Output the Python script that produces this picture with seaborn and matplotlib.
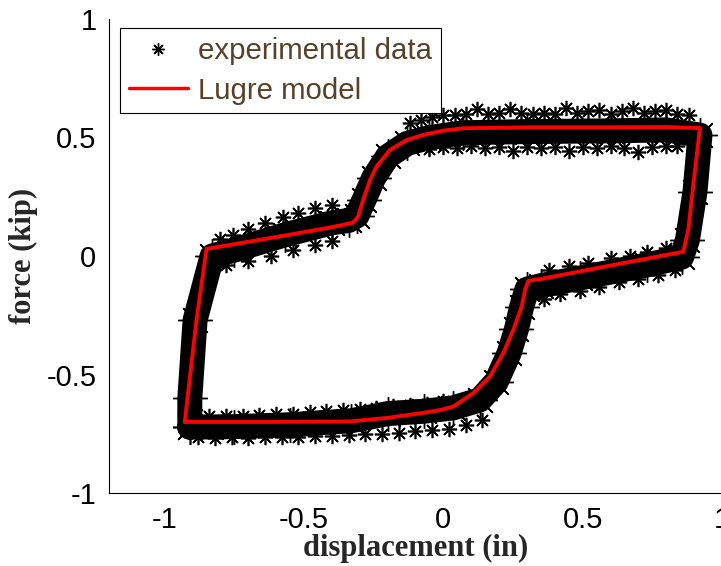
import numpy as np
import pandas as pd
import seaborn as sns
import matplotlib.pyplot as plt
from matplotlib.lines import Line2D

# Lugre model curve
model_x = [-0.928, -0.60, -0.335, -0.20, -0.073, -0.012, 0.035, 0.107, 0.167, 0.215, 0.251, 0.281, 0.293,
           0.305, 0.35, 0.60, 0.861, 0.879, 0.90, 0.921, 0.80, 0.60, 0.31, 0.071, 0.0, -0.072, -0.132,
           -0.192, -0.24, -0.263, -0.288, -0.306, -0.325, -0.407, -0.60, -0.85, -0.886, -0.928]
model_y = [-0.70, -0.70, -0.698, -0.683, -0.662, -0.650, -0.636, -0.579, -0.509, -0.41, -0.312, -0.214, -0.143,
           -0.105, -0.097, -0.04, 0.018, 0.11, 0.33, 0.54, 0.544, 0.543, 0.543, 0.539, 0.529, 0.511, 0.489,
           0.447, 0.377, 0.321, 0.236, 0.166, 0.14, 0.12, 0.08, 0.03, -0.27, -0.70]

# experimental data: middle of the measured band
exp_x = [-0.91, -0.75, -0.55, -0.33, -0.20, -0.07, 0.035, 0.131, 0.19, 0.236, 0.262, 0.281, 0.30,
         0.35, 0.49, 0.73, 0.855, 0.876, 0.903, 0.921, 0.80, 0.60, 0.30, 0.07, -0.05, -0.13, -0.20,
         -0.25, -0.285, -0.31, -0.34, -0.40, -0.57, -0.75, -0.83, -0.891, -0.91, -0.91]
exp_y = [-0.722, -0.72, -0.712, -0.695, -0.665, -0.655, -0.641, -0.607, -0.53, -0.41, -0.31, -0.214, -0.14,
         -0.125, -0.093, -0.038, -0.005, 0.068, 0.27, 0.51, 0.532, 0.528, 0.525, 0.52, 0.50, 0.475, 0.42,
         0.33, 0.236, 0.17, 0.15, 0.14, 0.089, 0.025, 0.0, -0.27, -0.60, -0.722]

# experimental data: samples scattered along the edges of the band
top_up_x = [-0.12, -0.08, -0.04, 0.0, 0.04, 0.08, 0.12, 0.16, 0.20, 0.24, 0.28, 0.32, 0.36,
            0.40, 0.44, 0.48, 0.52, 0.56, 0.60, 0.64, 0.68, 0.72, 0.76, 0.80, 0.84, 0.88]
top_up_y = [0.56, 0.575, 0.585, 0.595, 0.595, 0.60, 0.62, 0.60, 0.605, 0.62, 0.605, 0.60, 0.605,
            0.60, 0.625, 0.605, 0.61, 0.615, 0.60, 0.61, 0.625, 0.605, 0.61, 0.615, 0.60, 0.595]
top_lo_x = [-0.05, 0.0, 0.05, 0.10, 0.15, 0.20, 0.25, 0.30, 0.35, 0.40, 0.45, 0.50, 0.55,
            0.60, 0.65, 0.70, 0.75, 0.80, 0.84]
top_lo_y = [0.45, 0.46, 0.455, 0.465, 0.455, 0.46, 0.445, 0.46, 0.455, 0.46, 0.445, 0.46, 0.455,
            0.465, 0.455, 0.44, 0.46, 0.465, 0.465]
bot_lo_x = [-0.88, -0.82, -0.76, -0.70, -0.64, -0.58, -0.52, -0.46, -0.40, -0.34, -0.28, -0.22,
            -0.16, -0.10, -0.04, 0.02, 0.08, 0.14]
bot_lo_y = [-0.765, -0.77, -0.765, -0.77, -0.765, -0.765, -0.762, -0.76, -0.758, -0.755, -0.75, -0.75,
            -0.745, -0.74, -0.735, -0.73, -0.715, -0.69]
bot_up_x = [-0.84, -0.78, -0.72, -0.66, -0.60, -0.54, -0.48, -0.42, -0.36, -0.30, -0.24, -0.18,
            -0.12, -0.06, 0.0]
bot_up_y = [-0.675, -0.677, -0.673, -0.67, -0.665, -0.665, -0.66, -0.653, -0.65, -0.645, -0.64, -0.635,
            -0.63, -0.625, -0.61]
left_up_x = [-0.80, -0.755, -0.70, -0.64, -0.576, -0.52, -0.46, -0.40]
left_up_y = [0.07, 0.09, 0.113, 0.138, 0.165, 0.182, 0.202, 0.216]
left_lo_x = [-0.78, -0.70, -0.62, -0.54, -0.46, -0.40]
left_lo_y = [-0.04, -0.02, 0.0, 0.025, 0.045, 0.065]
right_up_x = [0.38, 0.45, 0.52, 0.60, 0.67, 0.73, 0.80]
right_up_y = [-0.058, -0.043, -0.028, -0.008, 0.002, 0.017, 0.032]
right_lo_x = [0.36, 0.42, 0.49, 0.56, 0.63, 0.70, 0.77, 0.83]
right_lo_y = [-0.18, -0.16, -0.146, -0.13, -0.11, -0.095, -0.08, -0.06]

edge_x = top_up_x + top_lo_x + bot_lo_x + bot_up_x + left_up_x + left_lo_x + right_up_x + right_lo_x
edge_y = top_up_y + top_lo_y + bot_lo_y + bot_up_y + left_up_y + left_lo_y + right_up_y + right_lo_y

df_model = pd.DataFrame({'x': model_x, 'y': model_y})
df_exp = pd.DataFrame({'x': exp_x, 'y': exp_y})

sns.set_style('white')
plt.rcParams['font.family'] = ['Liberation Sans', 'DejaVu Sans']
plt.rcParams['axes.unicode_minus'] = False

fig = plt.figure(figsize=(7.21, 5.66), dpi=100)
ax = fig.add_axes([109 / 721, 73 / 566, 613 / 721, 474 / 566])

asterisk = (8, 2, 0)

# band of experimental points
sns.lineplot(data=df_exp, x='x', y='y', sort=False, estimator=None, color='black',
             lw=18, marker=asterisk, markersize=25, markeredgewidth=1.0,
             markeredgecolor='black', ax=ax, zorder=2)
ax.plot(edge_x, edge_y, ls='none', marker=asterisk, color='black', markersize=11,
        markeredgewidth=1.2, zorder=2)

# model
sns.lineplot(data=df_model, x='x', y='y', sort=False, estimator=None, color='red',
             lw=2.8, ax=ax, zorder=3)

ax.set_xlim(-1.2, 1)
ax.set_ylim(-1, 1)
ax.set_xticks([-1, -0.5, 0, 0.5, 1])
ax.set_xticklabels(['-1', '-0.5', '0', '0.5', '1'])
ax.set_yticks([-1, -0.5, 0, 0.5, 1])
ax.set_yticklabels(['-1', '-0.5', '0', '0.5', '1'])
ax.tick_params(direction='in', length=5, width=0.8, labelsize=21, pad=9, colors='black')

for side in ['top', 'right']:
    ax.spines[side].set_visible(False)
for side in ['left', 'bottom']:
    ax.spines[side].set_linewidth(0.8)
    ax.spines[side].set_color('black')

ax.set_xlabel('displacement (in)', fontsize=22, fontweight='bold', family='Liberation Serif', labelpad=0)
ax.set_ylabel('force (kip)', fontsize=22, fontweight='bold', family='Liberation Serif', labelpad=6)

handles = [Line2D([], [], ls='none', marker=asterisk, color='black', markersize=9, markeredgewidth=1.0),
           Line2D([], [], color='red', lw=2.5)]
leg = ax.legend(handles, ['experimental data', 'Lugre model'], loc='upper left',
                bbox_to_anchor=(0.018, 0.981), borderaxespad=0, fontsize=21.2,
                fancybox=False, framealpha=1, edgecolor='black', labelcolor='#5a4028',
                handlelength=2.0, handletextpad=0.35, borderpad=0.3, labelspacing=0.4)
leg.get_frame().set_linewidth(0.8)
leg.set_zorder(5)

plt.savefig('out.png', dpi=100)
